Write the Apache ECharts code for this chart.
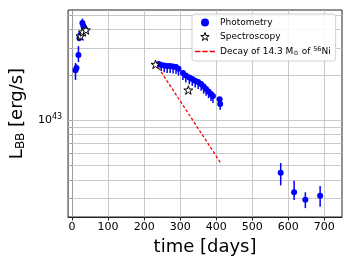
<!DOCTYPE html>
<html><head><meta charset="utf-8">
<script src="https://cdn.jsdelivr.net/npm/echarts@6/dist/echarts.min.js"></script>
<style>html,body{margin:0;padding:0;background:#fff}#c{width:352px;height:264px}</style>
</head><body><div id="c"></div>
<script>
// Photometry: time [days], luminosity [erg/s], lower and upper error bounds
const photTime = [9.6, 12.3, 17.8, 20.5, 23.2, 28.7, 31.4, 34.2, 38.3,
  240.6, 247.5, 255.7, 263.9, 272.1, 280.3, 288.5, 295.3, 307.6, 315.8, 325.4, 333.6, 341.8, 350.0, 358.2, 365.1, 371.9, 378.7, 385.6, 391.0, 409.4, 411.0,
  578.9, 616.1, 647.3, 688.3];
const photLum = [2.15e43, 2.22e43, 2.71e43, 3.52e43, 3.69e43, 4.43e43, 4.23e43, 4.11e43, 3.98e43,
  2.36e43, 2.33e43, 2.31e43, 2.29e43, 2.29e43, 2.27e43, 2.26e43, 2.20e43, 2.06e43, 1.98e43, 1.92e43, 1.88e43, 1.83e43, 1.79e43, 1.74e43, 1.67e43, 1.61e43, 1.55e43, 1.49e43, 1.445e43, 1.374e43, 1.279e43,
  0.445e43, 0.33e43, 0.294e43, 0.313e43];
const photLo = [1.85e43, 2.10e43, 2.43e43, 3.35e43, 3.50e43, 4.20e43, 4.00e43, 3.95e43, 3.85e43,
  2.30e43, 2.12e43, 2.08e43, 2.06e43, 2.06e43, 2.04e43, 2.03e43, 1.98e43, 1.85e43, 1.78e43, 1.73e43, 1.69e43, 1.65e43, 1.61e43, 1.57e43, 1.50e43, 1.45e43, 1.40e43, 1.34e43, 1.30e43, 1.24e43, 1.17e43,
  0.367e43, 0.293e43, 0.259e43, 0.264e43];
const photHi = [2.40e43, 2.35e43, 3.11e43, 3.70e43, 3.90e43, 4.75e43, 4.45e43, 4.30e43, 4.10e43,
  2.40e43, 2.36e43, 2.34e43, 2.32e43, 2.32e43, 2.30e43, 2.29e43, 2.23e43, 2.09e43, 2.01e43, 1.95e43, 1.91e43, 1.86e43, 1.82e43, 1.77e43, 1.70e43, 1.64e43, 1.58e43, 1.52e43, 1.47e43, 1.40e43, 1.30e43,
  0.517e43, 0.394e43, 0.330e43, 0.363e43];
// Spectroscopy epochs
const specTime = [23.5, 30.0, 38.5, 231.6, 322.7];
const specLum = [3.63e43, 3.86e43, 3.98e43, 2.35e43, 1.585e43];
// 56Ni decay line (straight in log space): endpoints
const decayTime = [232, 412];
const decayLum = [2.38e43, 0.52e43];
// Axis ticks
const xTicks = [0, 100, 200, 300, 400, 500, 600, 700];
const yTicks = [3e42, 4e42, 5e42, 6e42, 7e42, 8e42, 9e42, 1e43, 2e43, 3e43, 4e43, 5e43];
const yLabels = [1e43];

const STAR = 'path://M100,0 L122.45,69.1 L195.1,69.1 L136.3,111.8 L158.8,180.9 L100,138.2 L41.2,180.9 L63.7,111.8 L4.9,69.1 L77.55,69.1 Z';
const FONT = 'DejaVu Sans';
const gridColor = '#bdbdbd';

const chart = echarts.init(document.getElementById('c'), null, {renderer: 'canvas'});
const photData = photTime.map((t, i) => [t, photLum[i]]);
const errData = photTime.map((t, i) => [t, photLo[i], photHi[i]]);
const specData = specTime.map((t, i) => [t, specLum[i]]);
const decayData = decayTime.map((t, i) => [t, decayLum[i]]);
const gridLines = xTicks.map(v => ({xAxis: v})).concat(yTicks.map(v => ({yAxis: v})));

chart.setOption({
  animation: false,
  grid: {left: 64, right: 10, top: 10, bottom: 47, show: true, borderColor: '#222', borderWidth: 1, backgroundColor: 'transparent'},
  xAxis: {
    type: 'value', min: -11, max: 749,
    name: 'time [days]', nameLocation: 'middle', nameGap: 19,
    nameTextStyle: {fontFamily: FONT, fontSize: 18, color: '#000'},
    axisLine: {show: true, onZero: false, lineStyle: {color: '#222', width: 1}},
    axisTick: {show: true, inside: false, length: 3.5, customValues: xTicks, lineStyle: {color: '#222'}},
    axisLabel: {customValues: xTicks, fontFamily: FONT, fontSize: 11, color: '#000', margin: 5},
    splitLine: {show: false}
  },
  yAxis: {
    type: 'log', logBase: 10, min: 2.26e42, max: 5.41e43,
    name: '{a|L}{b|BB}{a| [erg/s]}', nameLocation: 'middle', nameGap: 34, nameRotate: 90,
    nameTextStyle: {fontFamily: FONT, fontSize: 18, color: '#000',
      rich: {a: {fontFamily: FONT, fontSize: 18, color: '#000'}, b: {fontFamily: FONT, fontSize: 12, color: '#000', verticalAlign: 'bottom', padding: [8, 0, 0, 0]}}},
    axisLine: {show: true, lineStyle: {color: '#222', width: 1}},
    axisTick: {show: true, inside: false, length: 2.5, customValues: yTicks, lineStyle: {color: '#222'}},
    axisLabel: {customValues: yLabels, fontFamily: FONT, fontSize: 11, color: '#000', margin: 6,
      formatter: v => '10{s|' + Math.round(Math.log10(v)) + '}',
      rich: {s: {fontSize: 8, verticalAlign: 'top', padding: [0, 0, 6, 0], fontFamily: FONT, color: '#000'}}},
    splitLine: {show: false},
    minorTick: {show: false}, minorSplitLine: {show: false}
  },
  legend: {
    orient: 'vertical', left: 192, top: 14, padding: [4, 5, 4, 3],
    backgroundColor: 'rgba(255,255,255,0.85)', borderColor: '#d0d0d0', borderWidth: 1, borderRadius: 3,
    itemWidth: 20, itemHeight: 8, itemGap: 5,
    textStyle: {fontFamily: FONT, fontSize: 9, color: '#000',
      rich: {a: {fontFamily: FONT, fontSize: 9, color: '#000'},
        sub: {fontFamily: FONT, fontSize: 6.5, color: '#000', verticalAlign: 'bottom', padding: [4, 0, 0, 0]},
        sup: {fontFamily: FONT, fontSize: 6.5, color: '#000', verticalAlign: 'top', padding: [0, 0, 4, 0]}}},
    formatter: n => n === 'Decay' ? '{a|Decay of 14.3 M}{sub|⊙}{a| of }{sup|56}{a|Ni}' : '{a|' + n + '}',
    data: [
      {name: 'Photometry', icon: 'circle', itemStyle: {color: '#0000ff'}},
      {name: 'Spectroscopy', icon: STAR, itemStyle: {color: '#fff', borderColor: '#000', borderWidth: 1}},
      {name: 'Decay', icon: 'path://M0,0 h6 v1.5 h-6 z M8,0 h6 v1.5 h-6 z M16,0 h6 v1.5 h-6 z', itemStyle: {color: '#ff0000'}}
    ]
  },
  series: [
    {
      name: 'Photometry', type: 'custom', z: 3,
      data: errData, encode: {x: 0, y: [1, 2]},
      renderItem: (params, api) => {
        const a = api.coord([api.value(0), api.value(1)]);
        const b = api.coord([api.value(0), api.value(2)]);
        return {type: 'line', shape: {x1: a[0], y1: a[1], x2: b[0], y2: b[1]}, style: {stroke: '#0000ff', lineWidth: 1.5}};
      },
      itemStyle: {color: '#0000ff'},
      markLine: {silent: true, symbol: 'none', label: {show: false}, z: 1,
        lineStyle: {color: gridColor, width: 0.8, type: 'solid'},
        emphasis: {disabled: true}, data: gridLines}
    },
    {
      name: 'Photometry', type: 'scatter', z: 4, data: photData,
      symbol: 'circle', symbolSize: 6, itemStyle: {color: '#0000ff', opacity: 1}
    },
    {
      name: 'Decay', type: 'line', z: 5, data: decayData, symbol: 'none',
      lineStyle: {color: '#ff0000', width: 1.3, type: [3, 2]}, itemStyle: {color: '#ff0000'}
    },
    {
      name: 'Spectroscopy', type: 'scatter', z: 6, data: specData,
      symbol: STAR, symbolSize: 9, symbolKeepAspect: true,
      itemStyle: {color: '#fff', borderColor: '#000', borderWidth: 1, opacity: 1}
    }
  ]
});
</script></body></html>
